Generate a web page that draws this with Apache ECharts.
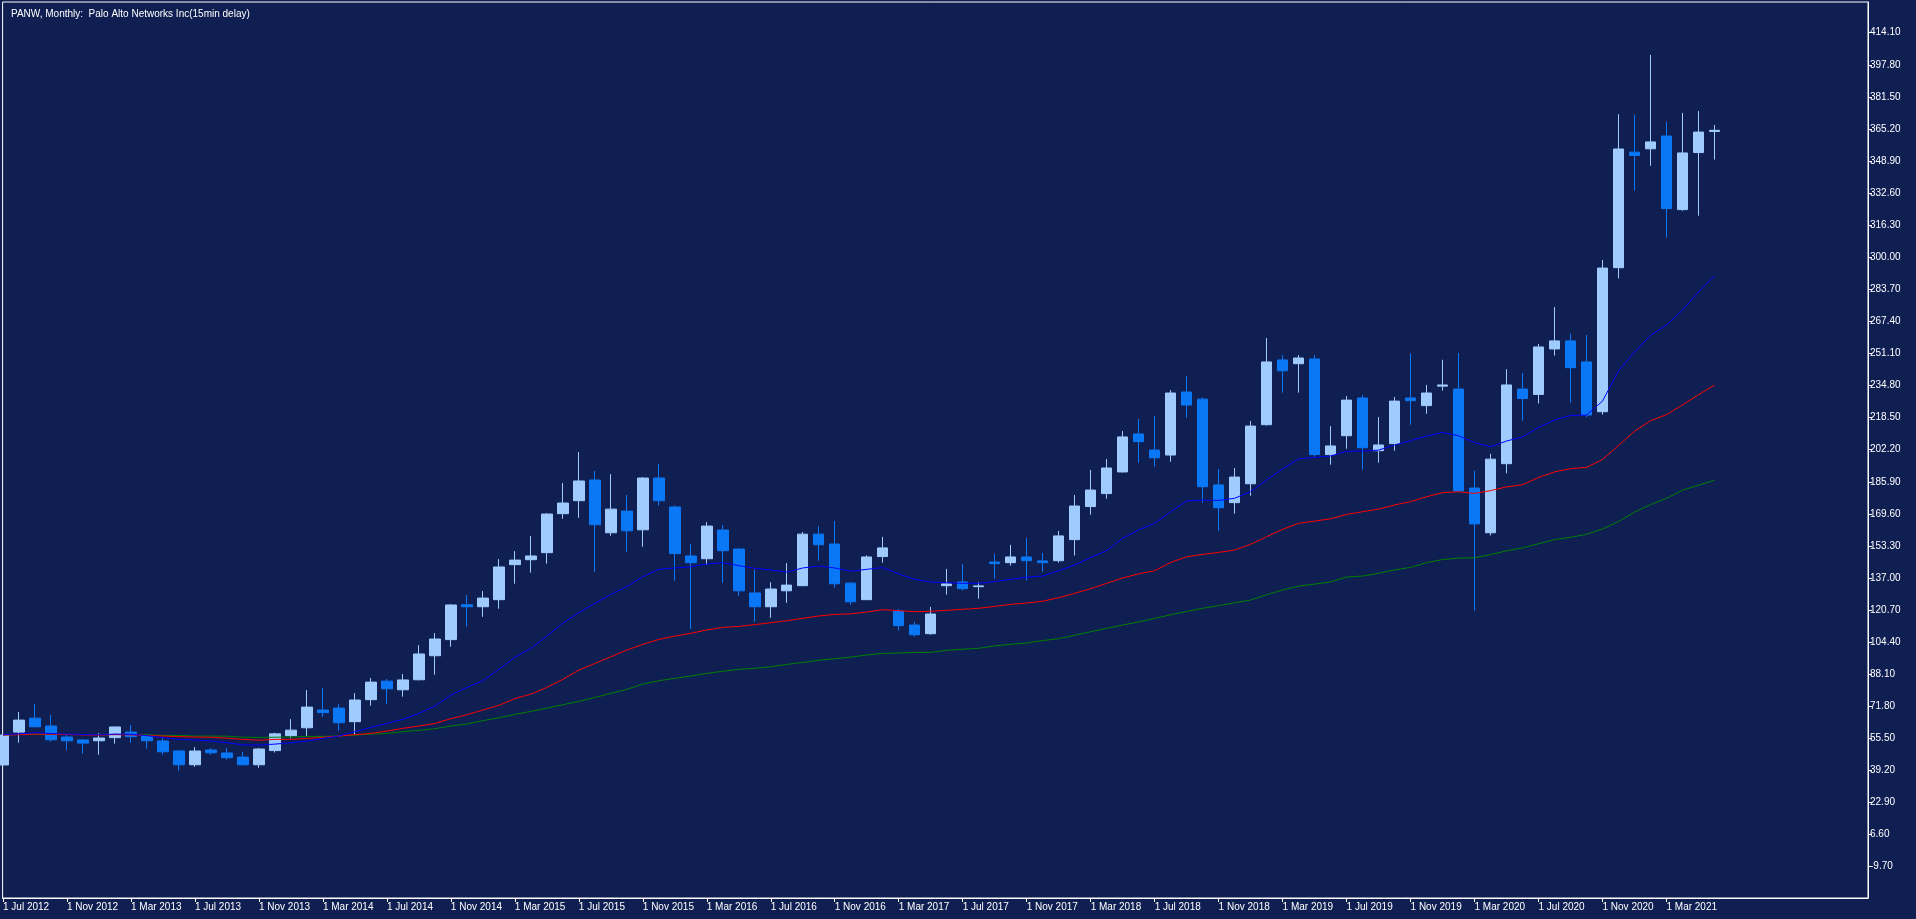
<!DOCTYPE html>
<html><head><meta charset="utf-8">
<script src="https://cdn.jsdelivr.net/npm/echarts@6/dist/echarts.min.js"></script>
<style>html,body{margin:0;padding:0;background:#101f52;}#c{width:1916px;height:919px;}</style>
</head><body><div id="c"></div>
<script>
// ---- data ----
const titleText = 'PANW, Monthly:  Palo Alto Networks Inc(15min delay)';
// one tick label every 4 months, first tick at the first candle (Jul 2012)
const xTickLabels = ['1 Jul 2012','1 Nov 2012','1 Mar 2013','1 Jul 2013','1 Nov 2013','1 Mar 2014','1 Jul 2014','1 Nov 2014','1 Mar 2015','1 Jul 2015','1 Nov 2015','1 Mar 2016','1 Jul 2016','1 Nov 2016','1 Mar 2017','1 Jul 2017','1 Nov 2017','1 Mar 2018','1 Jul 2018','1 Nov 2018','1 Mar 2019','1 Jul 2019','1 Nov 2019','1 Mar 2020','1 Jul 2020','1 Nov 2020','1 Mar 2021'];
const yTickLabels = [414.10,397.80,381.50,365.20,348.90,332.60,316.30,300.00,283.70,267.40,251.10,234.80,218.50,202.20,185.90,169.60,153.30,137.00,120.70,104.40,88.10,71.80,55.50,39.20,22.90,6.60,-9.70];

const opens  = [42.0,58.7,65.8,61.8,56.2,54.7,54.3,55.9,58.7,56.9,54.2,49.1,42.1,49.6,48.1,46.0,42.1,49.3,
  56.9,60.9,69.9,70.9,64.0,75.2,84.6,80.2,85.3,97.5,105.7,123.4,122.4,126.0,143.8,146.3,149.9,169.7,
  176.3,186.8,160.0,171.0,161.5,187.8,173.1,148.2,146.8,161.4,151.7,129.4,122.4,130.5,133.1,159.3,154.3,134.4,
  126.0,147.9,120.2,113.1,108.7,133.1,135.0,132.6,145.1,144.8,147.7,145.7,145.8,156.5,173.3,179.9,190.9,210.2,
  202.0,199.5,231.5,227.9,184.3,175.3,184.9,214.9,247.8,245.9,248.3,199.7,209.3,228.5,201.7,205.3,228.5,224.6,
  234.5,233.0,182.7,160.0,195.1,233.0,230.3,253.4,257.5,246.8,221.5,294.7,353.4,355.1,361.6,324.2,353.2,363.9];
const closes = [57.2,64.8,61.4,54.8,54.3,53.1,55.7,61.3,56.4,54.3,48.7,42.1,49.1,48.2,45.7,42.1,50.1,57.8,
  59.7,71.4,68.6,63.5,75.0,84.1,80.7,85.2,98.4,106.0,123.3,122.4,126.8,142.6,146.1,148.2,169.5,175.1,
  186.3,164.1,172.0,161.0,187.8,176.3,149.4,144.8,163.4,150.9,130.5,122.4,131.4,133.4,159.3,153.9,134.1,124.9,
  147.7,152.3,112.8,108.2,118.7,134.0,131.6,133.0,144.3,147.7,145.8,144.8,158.4,173.6,181.7,192.9,208.7,206.3,
  198.1,231.0,224.9,183.4,172.7,188.3,214.2,246.8,242.3,248.8,199.7,204.1,227.4,203.2,204.6,226.9,227.1,231.0,
  235.1,181.2,164.5,197.4,235.1,228.2,254.4,257.5,243.9,219.8,294.5,355.0,351.7,358.6,324.7,353.0,363.6,364.5];
const lows   = [42.0,53.3,61.2,53.8,49.6,47.7,47.2,52.8,53.3,50.3,47.2,39.1,41.1,47.2,44.7,42.0,40.6,48.3,
  55.5,56.7,66.5,59.4,57.5,72.1,73.1,76.7,85.0,87.9,102.1,112.3,117.3,121.4,134.1,139.7,144.3,167.1,
  167.6,140.2,158.5,150.4,152.9,173.7,135.6,111.2,143.8,134.6,128.0,114.8,116.8,124.4,132.9,145.8,132.1,123.4,
  125.8,144.8,110.3,107.2,108.2,128.6,130.6,126.5,136.7,143.3,135.7,140.2,144.8,148.4,169.2,177.3,190.6,195.6,
  193.6,196.1,218.4,175.3,161.0,169.7,178.8,214.5,231.2,231.2,198.6,194.6,202.7,192.0,195.6,201.7,214.9,220.5,
  232.2,181.0,120.4,158.6,190.2,216.9,225.7,250.0,226.1,218.7,220.0,289.2,333.9,346.5,310.0,323.6,321.1,349.6];
const highs  = [57.5,68.9,73.0,67.4,57.2,55.2,58.2,61.5,62.3,57.0,56.2,49.4,51.1,50.6,50.6,48.6,50.6,58.4,
  65.3,80.1,81.1,72.9,78.5,86.2,85.7,88.2,102.9,109.0,123.6,128.3,130.4,146.6,150.7,158.3,170.0,185.3,
  201.0,191.4,189.8,179.2,188.3,194.9,173.9,154.3,165.4,163.9,152.2,141.1,134.9,144.6,160.4,163.4,166.0,134.9,
  148.5,157.9,121.3,114.7,122.3,141.6,144.1,134.8,149.2,153.8,157.3,149.7,160.9,179.2,191.9,197.5,211.7,217.8,
  219.3,232.5,239.6,228.8,192.4,192.9,216.8,259.0,250.3,250.3,250.3,214.2,229.5,230.0,218.8,229.0,251.0,235.1,
  247.9,251.3,191.5,200.1,243.1,241.2,255.9,274.7,261.1,260.5,298.6,372.7,372.4,402.8,368.7,373.3,374.3,367.2];

const maBlue  = [57.4,57.8,58.4,58.0,57.7,57.5,57.3,57.7,57.6,56.9,55.9,55.0,54.7,54.2,53.3,52.2,52.1,52.6,
  53.3,54.1,55.5,56.7,58.9,61.1,63.1,65.2,68.2,71.9,77.5,81.4,84.8,90.6,96.7,101.2,107.5,114.0,
  119.4,124.1,128.7,132.6,137.7,141.4,142.1,142.7,144.1,144.8,143.3,141.9,141.1,140.0,142.1,143.1,142.1,140.5,
  141.4,142.3,139.1,136.3,135.0,134.6,134.3,134.3,135.2,136.3,137.4,138.0,140.7,143.6,147.4,150.9,157.2,161.4,
  164.8,170.7,176.1,176.6,176.4,177.5,180.9,186.8,192.4,197.6,198.3,199.0,201.4,201.5,202.0,204.6,206.8,209.1,
  211.0,209.3,205.8,203.7,206.6,208.7,213.5,217.3,219.6,219.8,226.9,242.2,251.7,260.3,265.5,273.1,282.3,290.5];
const maRed   = [57.2,57.4,57.7,57.6,57.5,57.3,57.2,57.4,57.3,57.0,56.7,56.4,56.2,56.1,55.6,55.0,54.6,55.0,
  55.0,55.5,56.0,56.7,57.4,58.0,59.2,60.6,61.8,63.1,65.5,67.5,69.9,72.3,75.7,78.0,81.4,85.5,
  90.2,93.6,97.0,100.4,103.3,105.8,107.5,108.9,110.6,111.9,112.4,113.3,114.3,115.3,116.5,117.7,118.5,118.8,
  119.7,120.9,120.4,119.9,120.1,120.6,121.1,121.6,122.6,123.6,124.3,125.2,127.0,129.2,131.6,134.3,137.0,139.1,
  140.7,144.9,147.8,149.0,150.0,151.2,154.1,158.0,161.7,164.8,165.9,167.1,169.3,170.7,172.0,174.1,175.8,178.3,
  180.4,180.8,180.0,181.4,183.3,184.4,188.1,190.9,192.6,193.2,197.2,204.3,211.6,216.9,220.0,225.0,230.1,235.1];
const maGreen = [57.2,57.5,57.6,57.6,57.5,57.5,57.4,57.5,57.5,57.4,57.0,57.0,56.7,56.7,56.6,56.1,56.0,56.1,
  56.2,56.5,56.5,56.7,57.2,57.7,58.0,58.9,59.6,60.4,61.8,62.8,64.5,66.0,67.7,69.2,70.9,72.6,
  74.3,76.3,78.4,80.4,83.1,84.8,86.0,87.2,88.5,89.6,90.6,91.1,91.9,93.1,94.1,95.2,96.0,96.8,
  97.9,98.7,98.9,99.2,99.2,100.3,100.8,101.3,102.5,103.3,104.0,105.2,106.2,107.9,109.7,111.4,113.1,114.7,
  116.5,118.3,120.0,121.6,123.0,124.4,125.8,128.5,130.9,132.9,133.9,135.0,137.5,138.0,139.4,141.1,142.4,144.8,
  146.4,147.1,147.3,148.9,150.8,152.3,154.4,156.5,157.7,159.2,161.9,165.7,170.5,174.3,177.5,181.6,184.2,186.7];

// ---- build ----
const candleData = opens.map((o, i) => [i, o, closes[i], lows[i], highs[i]]);
const toPts = arr => arr.map((v, i) => [i, v]);
const xTickIdx = xTickLabels.map((_, k) => k * 4);
const FONT = 'Liberation Sans';
const WHITE = '#ffffff';

const chart = echarts.init(document.getElementById('c'), null, {renderer: 'canvas'});
chart.setOption({
  backgroundColor: '#101f52',
  animation: false,
  title: {
    text: titleText, left: 6, top: 4,
    textStyle: {color: WHITE, fontSize: 10, fontWeight: 'normal', fontFamily: FONT}
  },
  grid: {left: 2, top: 2, right: 48, bottom: 21, show: true, borderColor: WHITE, borderWidth: 1, backgroundColor: 'transparent'},
  xAxis: {
    type: 'value', min: -0.025, max: 116.6,
    axisLine: {show: true, onZero: false, lineStyle: {color: WHITE, width: 1}},
    splitLine: {show: false},
    axisTick: {show: true, length: 4, customValues: xTickIdx, lineStyle: {color: WHITE}},
    axisLabel: {
      customValues: xTickIdx, color: WHITE, fontSize: 10, fontFamily: FONT, align: 'left', margin: 4,
      formatter: v => xTickLabels[Math.round(v / 4)] || ''
    }
  },
  yAxis: {
    type: 'value', position: 'right', min: -25.6, max: 429.7,
    axisLine: {show: true, onZero: false, lineStyle: {color: WHITE, width: 1}},
    splitLine: {show: false},
    axisTick: {show: true, length: 4, customValues: yTickLabels, lineStyle: {color: WHITE}},
    axisLabel: {
      customValues: yTickLabels, color: WHITE, fontSize: 10, fontFamily: FONT, margin: 2,
      formatter: v => v.toFixed(2)
    }
  },
  series: [
    {
      type: 'candlestick', data: candleData, encode: {x: 0, y: [1, 2, 3, 4]},
      barWidth: 11,
      itemStyle: {color: '#9fcbff', color0: '#0a78f6', borderColor: '#9fcbff', borderColor0: '#0a78f6', borderWidth: 1},
      z: 2
    },
    {type: 'line', data: toPts(maGreen), showSymbol: false, symbol: 'none', lineStyle: {color: '#008000', width: 1}, itemStyle: {color: '#008000'}, z: 3},
    {type: 'line', data: toPts(maRed), showSymbol: false, symbol: 'none', lineStyle: {color: '#ff0000', width: 1}, itemStyle: {color: '#ff0000'}, z: 4},
    {type: 'line', data: toPts(maBlue), showSymbol: false, symbol: 'none', lineStyle: {color: '#0000ff', width: 1}, itemStyle: {color: '#0000ff'}, z: 5}
  ]
});
</script>
</body></html>
